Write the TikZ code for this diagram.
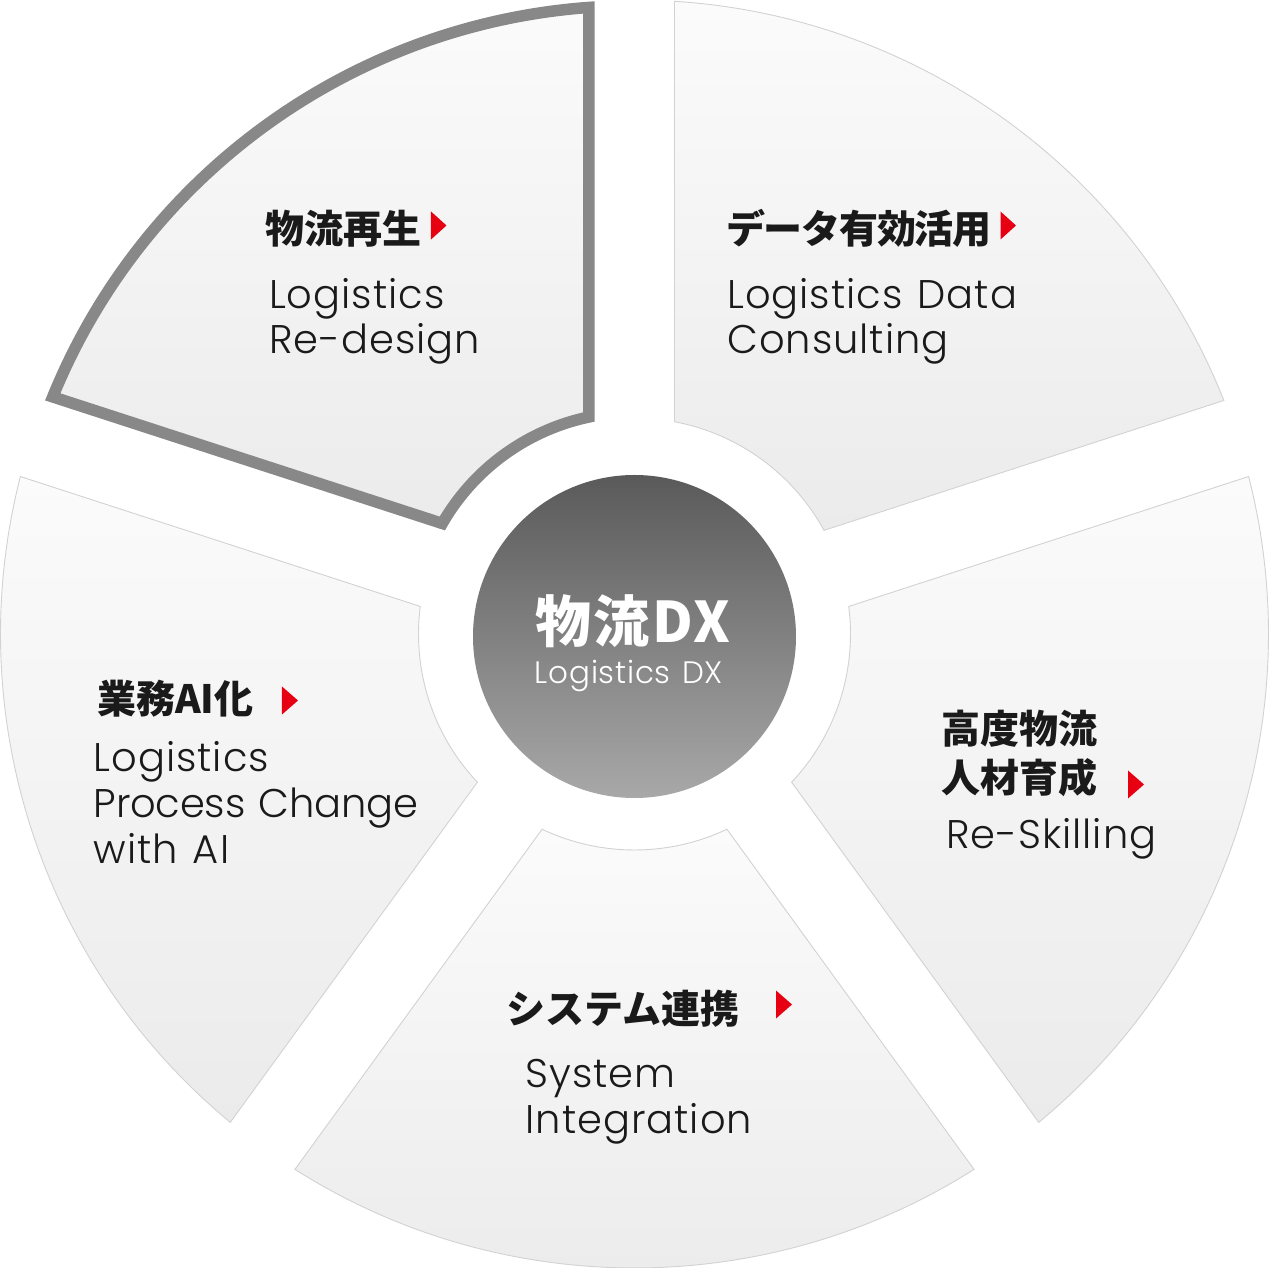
\documentclass[tikz,border=0pt]{standalone}
\usepackage{fontspec}
\setmainfont{Poppins}
\IfFontExistsTF{Poppins Light}
  {\newfontfamily\en{Poppins Light}[LetterSpace=2.5,WordSpace=1.25]
   \newfontfamily\entight{Poppins Light}[LetterSpace=-0.5,WordSpace=1.25]}
  {\newfontfamily\en{Poppins}[LetterSpace=2.5,WordSpace=1.25]
   \newfontfamily\entight{Poppins}[LetterSpace=-0.5,WordSpace=1.25]}
\newfontfamily\jp{Noto Sans CJK JP}
\definecolor{segtop}{HTML}{FBFBFB}
\definecolor{segbot}{HTML}{EBEBEB}
\definecolor{segline}{HTML}{D2D2D2}
\definecolor{hl}{HTML}{888888}
\definecolor{ctop}{HTML}{5A5A5A}
\definecolor{cbot}{HTML}{A8A8A8}
\definecolor{txt}{HTML}{1A1A1A}
\definecolor{mark}{HTML}{E60012}
\newcommand\segpath[1]{({#1+32.383}:634) arc[start angle={#1+32.383}, end angle={#1-32.383}, radius=634] -- ({#1-25.33}:216) arc[start angle={#1-25.33}, end angle={#1+25.33}, radius=216] -- cycle}
\tikzset{
  segfill/.style={top color=segtop, bottom color=segbot},
  segdraw/.style={draw=segline, line width=0.9pt},
  jptext/.style={anchor=base west, inner sep=0pt, text=txt, font=\jp\bfseries\fontsize{39}{39}\selectfont},
  entext/.style={anchor=base west, inner sep=0pt, text=txt, font=\en\fontsize{40}{46}\selectfont},
  redmark/.style={fill=mark},
}
\begin{document}
\begin{tikzpicture}[x=1pt,y=1pt]
\useasboundingbox (-634.5,-634) rectangle (634.5,634);
% segments
\foreach \a in {54,-18,-90,198}{
  \path[segfill] \segpath{\a};
  \draw[segdraw] \segpath{\a};
}
\begin{scope}
  \clip \segpath{126};
  \path[segfill] \segpath{126};
  \draw[draw=hl, line width=23pt] \segpath{126};
\end{scope}
% centre
\shade[top color=ctop, bottom color=cbot] (0,-2.5) circle[radius=161.5];
% texts in image coordinates
\begin{scope}[x=1pt,y=-1pt,shift={(-634.5,-634)}]
  \node[anchor=base, inner sep=0pt, text=white, font=\jp\bfseries\fontsize{56}{56}\selectfont\addfontfeature{LetterSpace=4}] (ctitle) at (633,643) {物流DX};
  \node[anchor=base, inner sep=0pt, text=white, font=\en\fontsize{31}{31}\selectfont] (csub) at (629,683.5) {Logistics DX};
  % top-left
  \node[jptext] (tlj) at (265,244) {物流再生};
  \fill[redmark] (431,211.5) -- (446.5,225.5) -- (431,239.5) -- cycle;
  \node[entext] (tl1) at (269,308.5) {Logistics};
  \node[entext] (tl2) at (269,354) {Re-design};
  % top-right
  \node[jptext, font=\jp\bfseries\fontsize{39}{39}\selectfont\addfontfeature{LetterSpace=-3.3}] (trj) at (726,244) {データ有効活用};
  \fill[redmark] (1000.5,211.5) -- (1016,225.5) -- (1000.5,239.5) -- cycle;
  \node[entext] (tr1) at (727,308.5) {Logistics Data};
  \node[entext] (tr2) at (727,354) {Consulting};
  % right
  \node[jptext] (rj1) at (941,744) {高度物流};
  \node[jptext] (rj2) at (941,793) {人材育成};
  \fill[redmark] (1128,770.5) -- (1144,784.5) -- (1128,798.5) -- cycle;
  \node[entext] (r1) at (946,849) {Re-Skilling};
  % bottom
  \node[jptext] (bj) at (506,1023) {システム連携};
  \fill[redmark] (776,990.5) -- (792,1004.5) -- (776,1018.5) -- cycle;
  \node[entext] (b1) at (525.5,1087.5) {System};
  \node[entext] (b2) at (525.5,1133.5) {Integration};
  % left
  \node[jptext] (lj) at (97,714) {業務AI化};
  \fill[redmark] (282,686.5) -- (298,700.5) -- (282,714.5) -- cycle;
  \node[entext] (l1) at (93.5,771.5) {Logistics};
  \node[entext, font=\entight\fontsize{40}{46}\selectfont] (l2) at (93.5,817.5) {Process Change};
  \node[entext] (l3) at (93.5,863.5) {with AI};
\end{scope}
\end{tikzpicture}
\end{document}
